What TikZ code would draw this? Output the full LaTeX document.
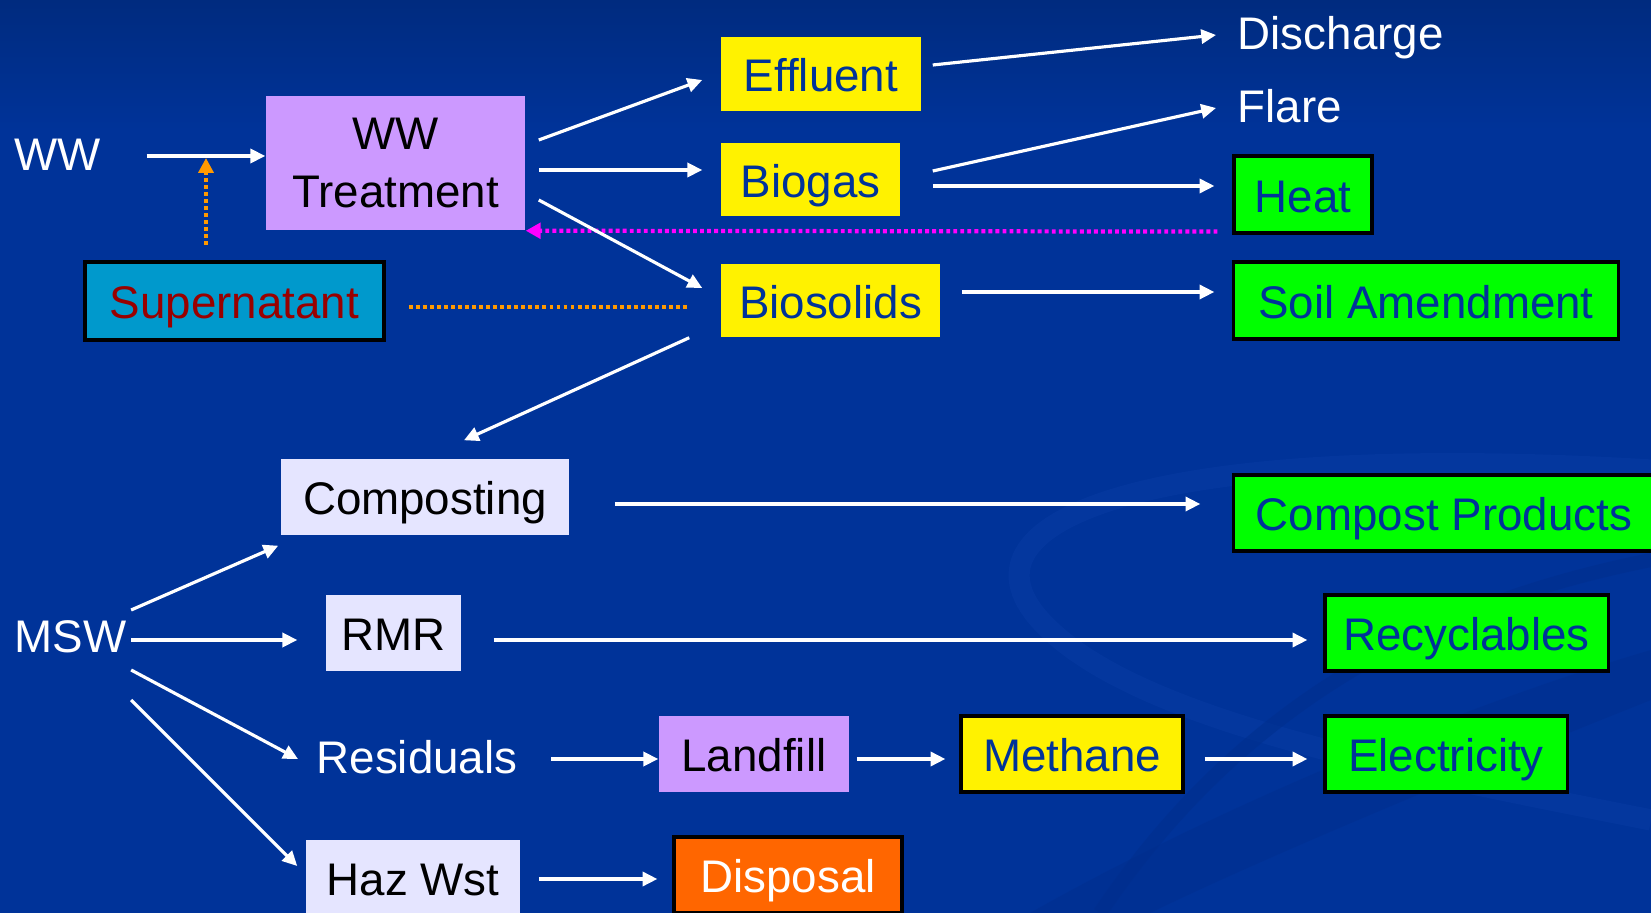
\documentclass[tikz,border=0pt]{standalone}
\usepackage{fontspec}
\setmainfont{Liberation Sans}
\usepackage{tikz}
\usetikzlibrary{arrows.meta,calc}
\definecolor{bg}{HTML}{003399}
\definecolor{bgtop}{HTML}{002B7F}
\definecolor{swirl}{HTML}{0A3DA6}
\definecolor{swirldark}{HTML}{002E8C}
\definecolor{lav}{HTML}{CC99FF}
\definecolor{pale}{HTML}{E5E5FF}
\definecolor{navy}{HTML}{003399}
\definecolor{supfill}{HTML}{0099CC}
\definecolor{darkred}{HTML}{990000}
\definecolor{orng}{HTML}{FF9900}
\definecolor{pink}{HTML}{FF00FF}
\definecolor{disp}{HTML}{FF6600}
\tikzset{
  txt/.style={font=\fontsize{13}{16.5}\selectfont, inner sep=0pt},
  capht/.style={text height=0.35cm, text depth=0pt},
  box/.style={txt, capht, minimum height=0.76cm},
  lavbox/.style={box, fill=lav},
  palebox/.style={box, fill=pale},
  yelbox/.style={box, fill=yellow, text=navy},
  grnbox/.style={box, fill=green, draw=black, line width=0.9pt, text=navy},
  lbl/.style={txt, capht, text=white, anchor=west},
  flow/.style={white, line width=0.9pt, -{Triangle[length=4.2pt,width=4pt]}},
  dots/.style={line width=1.2pt, dash pattern=on 1.1pt off 0.9pt},
}

\begin{document}
\begin{tikzpicture}[x=0.01cm,y=-0.01cm]
      \useasboundingbox (0,0) rectangle (1651,913);
      % background
      \fill[bg] (0,0) rectangle (1651,913);
      \shade[top color=bgtop, bottom color=bg] (0,0) rectangle (1651,130);
      \fill[swirldark, opacity=0.45] (1030,913) .. controls (1230,800) and (1480,700) .. (1651,650)
            -- (1651,700) .. controls (1500,760) and (1280,850) .. (1150,913) -- cycle;
      \draw[swirl, line width=6pt, opacity=0.45] (1651,470) .. controls (1150,440) and (950,520) .. (1040,620)
            .. controls (1130,720) and (1400,770) .. (1651,820);
      \draw[swirldark, line width=4pt, opacity=0.5] (1651,560) .. controls (1450,600) and (1250,690) .. (1100,913);

      % wastewater side
      \node[lbl] (ww) at (14,153) {WW};
      \node[txt, fill=lav, align=center, minimum width=2.59cm, minimum height=1.34cm] (wwt) at (395.5,163) {WW\\Treatment};
      \node[box, fill=supfill, draw=black, line width=1pt, text=darkred, minimum width=2.99cm, minimum height=0.78cm] (sup) at (234.5,301) {Supernatant};
      \node[yelbox, minimum width=2cm, minimum height=0.74cm] (eff) at (821,74) {Effluent};
      \node[yelbox, minimum width=1.79cm, minimum height=0.73cm] (bgs) at (810.5,179.5) {Biogas};
      \node[yelbox, minimum width=2.19cm, minimum height=0.73cm] (bsl) at (830.5,300.5) {Biosolids};
      \node[lbl] (dis) at (1237,32) {Discharge};
      \node[lbl] (flr) at (1237,105) {Flare};
      \node[grnbox, minimum width=1.38cm, minimum height=0.77cm] (heat) at (1303,194.5) {Heat};
      \node[grnbox, minimum width=3.84cm, minimum height=0.77cm] (soil) at (1426,300.5) {Soil Amendment};
      \coordinate (join) at (206,158);

      % solid waste side
      \node[palebox, minimum width=2.88cm] (cmp) at (425,497) {Composting};
      \node[grnbox, minimum width=4.2cm] (cprod) at (1444,513) {Compost Products};
      \node[lbl] (msw) at (14,635) {MSW};
      \node[palebox, minimum width=1.35cm] (rmr) at (393.5,633) {RMR};
      \node[grnbox, minimum width=2.83cm] (rcy) at (1466.5,633) {Recyclables};
      \node[lbl] (res) at (316,756) {Residuals};
      \node[lavbox, minimum width=1.9cm] (lf) at (754,754) {Landfill};
      \node[box, fill=yellow, draw=black, line width=0.9pt, text=navy, minimum width=2.22cm] (meth) at (1072,754) {Methane};
      \node[grnbox, minimum width=2.42cm] (elec) at (1446,754) {Electricity};
      \node[palebox, minimum width=2.14cm] (haz) at (413,878) {Haz Wst};
      \node[box, fill=disp, draw=black, line width=0.9pt, text=white, minimum width=2.28cm] (dsp) at (788,875) {Disposal};

      % recycle flows
      \draw[dots, pink, -{Triangle[length=4.2pt,width=4.4pt]}] ($(heat.south west)+(-15,-3)$) -- (wwt.south east);
      \draw[dots, orng, -{Triangle[length=4.2pt,width=4.2pt]}] ($(sup.north)+(-28.5,-15)$) -- (join);
      \draw[dots, orng] ($(sup.east)+(23,6)$) -- ($(bsl.west)+(-31,6.5)$);

      % flows
      \draw[flow] ($(ww.east)+(45,3)$) -- ($(wwt.west)+(0,-7)$);
      \draw[flow] ($(wwt.east)+(13,-23)$) -- ($(eff.west)+(-18,6)$);
      \draw[flow] ($(wwt.east)+(13,7)$) -- ($(bgs.west)+(-18,-9.5)$);
      \draw[flow] ($(wwt.east)+(13,37)$) -- ($(bsl.west)+(-18,-12.5)$);
      \draw[flow] ($(eff.east)+(11,-9)$) -- ($(dis.west)+(-21,3)$);
      \draw[flow] ($(bgs.east)+(32,-8.5)$) -- ($(flr.west)+(-21,3)$);
      \draw[flow] ($(bgs.east)+(32,6.5)$) -- ($(heat.west)+(-18,-8.5)$);
      \draw[flow] ($(bsl.east)+(21,-8.5)$) -- ($(soil.west)+(-18,-8.5)$);
      \draw[flow] ($(bsl.south west)+(-31,0)$) -- ($(cmp.north)+(39,-18)$);
      \draw[flow] ($(cmp.east)+(45,7)$) -- ($(cprod.west)+(-32,-9)$);
      \draw[flow] ($(msw.east)+(4,-25)$) -- ($(cmp.south west)+(-2,10)$);
      \draw[flow] ($(msw.east)+(4,5)$) -- ($(rmr.west)+(-28,7)$);
      \draw[flow] ($(rmr.east)+(32,7)$) -- ($(rcy.west)+(-16,7)$);
      \draw[flow] ($(msw.east)+(4,35)$) -- ($(res.west)+(-18,3)$);
      \draw[flow] ($(msw.east)+(4,65)$) -- ($(haz.west)+(-8,-12)$);
      \draw[flow] ($(res.east)+(33,3)$) -- ($(lf.west)+(0,5)$);
      \draw[flow] ($(lf.east)+(7,5)$) -- ($(meth.west)+(-14,5)$);
      \draw[flow] ($(meth.east)+(20,5)$) -- ($(elec.west)+(-16,5)$);
      \draw[flow] ($(haz.east)+(18,1)$) -- ($(dsp.west)+(-15,4)$);
\end{tikzpicture}
\end{document}
